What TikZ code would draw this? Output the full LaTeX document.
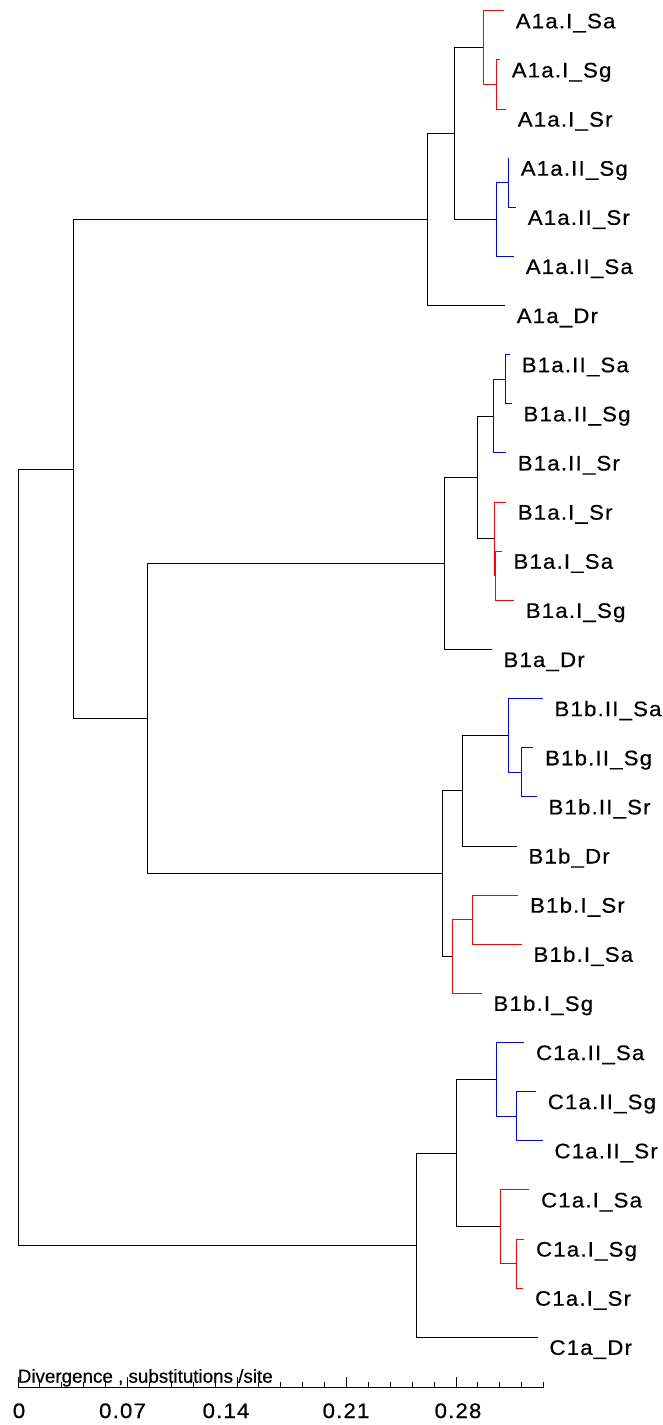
\documentclass[tikz,border=0pt]{standalone}
\usepackage{fontspec}
\setmainfont{Liberation Sans}
\newfontfamily\labfont[FakeStretch=1.06,LetterSpace=5.5,FakeBold=0.5]{Liberation Sans}
\newfontfamily\axfont[FakeBold=0.5]{Liberation Sans}
\definecolor{cladeI}{RGB}{255,0,0}
\definecolor{cladeII}{RGB}{0,0,255}
\begin{document}
\begin{tikzpicture}[x=1pt,y=-1pt,line width=1pt]
\tikzset{
  lab/.style={anchor=base west,inner sep=0pt,font=\labfont\fontsize{21}{23}\selectfont},
  num/.style={anchor=base,inner sep=0pt,font=\labfont\fontsize{21}{23}\selectfont},
  axistitle/.style={anchor=base west,inner sep=0pt,font=\axfont\fontsize{18.8}{22}\selectfont},
  edge/.style={line width=1pt,line join=miter},
  redge/.style={edge,cladeI},
  bedge/.style={edge,cladeII},
  kedge/.style={edge,black}
}
\path[use as bounding box,fill=white] (0,0) rectangle (662,1425);

% tree: one unit of y per leaf
\begin{scope}[y=-49.13pt,yshift=-10.8pt]
  % leaf tips
  \coordinate (L0) at (504,0);
  \coordinate (L1) at (500,1);
  \coordinate (L2) at (506,2);
  \coordinate (L3) at (509,3);
  \coordinate (L4) at (516,4);
  \coordinate (L5) at (514,5);
  \coordinate (L6) at (505,6);
  \coordinate (L7) at (510,7);
  \coordinate (L8) at (511.7,8);
  \coordinate (L9) at (506,9);
  \coordinate (L10) at (506,10);
  \coordinate (L11) at (501.7,11);
  \coordinate (L12) at (514,12);
  \coordinate (L13) at (491.7,13);
  \coordinate (L14) at (542.7,14);
  \coordinate (L15) at (533.3,15);
  \coordinate (L16) at (536.7,16);
  \coordinate (L17) at (516.7,17);
  \coordinate (L18) at (518.3,18);
  \coordinate (L19) at (521.7,19);
  \coordinate (L20) at (481.7,20);
  \coordinate (L21) at (524.3,21);
  \coordinate (L22) at (536,22);
  \coordinate (L23) at (542.7,23);
  \coordinate (L24) at (529.3,24);
  \coordinate (L25) at (524.3,25);
  \coordinate (L26) at (523.3,26);
  \coordinate (L27) at (537.7,27);

  % internal nodes
  \coordinate (a1) at (496.7,1.5);
  \coordinate (a2) at (483.3,0.75);
  \coordinate (a3) at (508.3,3.5);
  \coordinate (a4) at (496.7,4.25);
  \coordinate (a5) at (454.3,2.5);
  \coordinate (a6) at (427.7,4.25);

  \coordinate (b1) at (505.3,7.5);
  \coordinate (b2) at (493.3,8.25);
  \coordinate (b3) at (495,11.5);
  \coordinate (b4) at (494.3,10.75);
  \coordinate (b5) at (477.3,9.5);
  \coordinate (b6) at (444.3,11.25);

  \coordinate (c1) at (521.7,15.5);
  \coordinate (c2) at (508.3,14.75);
  \coordinate (c3) at (462.3,15.875);
  \coordinate (c4) at (472.3,18.5);
  \coordinate (c5) at (452.3,19.25);
  \coordinate (c6) at (442.7,17.5625);

  \coordinate (bB) at (147.3,14.40625);
  \coordinate (ab) at (73.3,9.328);

  \coordinate (d1) at (516.7,22.5);
  \coordinate (d2) at (496.7,21.75);
  \coordinate (d3) at (516.7,25.5);
  \coordinate (d4) at (500,24.75);
  \coordinate (d5) at (456,23.25);
  \coordinate (d6) at (416,25.125);

  \coordinate (root) at (18.3,17.227);

  % tip labels
  \foreach \i/\t in {0/A1a.I\_Sa,1/A1a.I\_Sg,2/A1a.I\_Sr,3/A1a.II\_Sg,4/A1a.II\_Sr,
      5/A1a.II\_Sa,6/A1a\_Dr,7/B1a.II\_Sa,8/B1a.II\_Sg,9/B1a.II\_Sr,10/B1a.I\_Sr,
      11/B1a.I\_Sa,12/B1a.I\_Sg,13/B1a\_Dr,14/B1b.II\_Sa,15/B1b.II\_Sg,16/B1b.II\_Sr,
      17/B1b\_Dr,18/B1b.I\_Sr,19/B1b.I\_Sa,20/B1b.I\_Sg,21/C1a.II\_Sa,22/C1a.II\_Sg,
      23/C1a.II\_Sr,24/C1a.I\_Sa,25/C1a.I\_Sg,26/C1a.I\_Sr,27/C1a\_Dr}
    \node[lab] (T\i) at ([xshift=11.3pt,yshift=-17.5pt]L\i) {\t};

  % A1a
  \draw[redge] (a1) |- (L1) (a1) |- (L2) (a2) |- (L0) (a2) |- (a1);
  \draw[bedge] (a3) |- (L3) (a3) |- (L4) (a4) |- (a3) (a4) |- (L5);
  \draw[kedge] (a5) |- (a2) (a5) |- (a4) (a6) |- (a5) (a6) |- (L6);

  % B1a
  \draw[bedge] (b1) |- (L7) (b1) |- (L8) (b2) |- (b1) (b2) |- (L9);
  \draw[redge] (b3) |- (L11) (b3) |- (L12) (b4) |- (L10) (b4) |- (b3);
  \draw[kedge] (b5) |- (b2) (b5) |- (b4) (b6) |- (b5) (b6) |- (L13);

  % B1b
  \draw[bedge] (c1) |- (L15) (c1) |- (L16) (c2) |- (L14) (c2) |- (c1);
  \draw[redge] (c4) |- (L18) (c4) |- (L19) (c5) |- (c4) (c5) |- (L20);
  \draw[kedge] (c3) |- (c2) (c3) |- (L17) (c6) |- (c3) (c6) |- (c5);

  % C1a
  \draw[bedge] (d1) |- (L22) (d1) |- (L23) (d2) |- (L21) (d2) |- (d1);
  \draw[redge] (d3) |- (L25) (d3) |- (L26) (d4) |- (L24) (d4) |- (d3);
  \draw[kedge] (d5) |- (d2) (d5) |- (d4) (d6) |- (d5) (d6) |- (L27);

  % backbone
  \draw[kedge] (bB) |- (b6) (bB) |- (c6) (ab) |- (a6) (ab) |- (bB)
               (root) |- (ab) (root) |- (d6);
\end{scope}

% scale axis
\coordinate (ax0) at (18,1387);
\coordinate (ax1) at (543.6,1387);
\draw[kedge] (ax0) -- (ax1);
\foreach \i in {0,...,24}{
  \pgfmathsetmacro\tx{18+21.9*\i}
  \pgfmathtruncatemacro\m{mod(\i,5)}
  \ifnum\m=0
    \draw[kedge] (\tx,1387) -- (\tx,1377);
  \else
    \draw[kedge] (\tx,1387) -- (\tx,1381.5);
  \fi
}
\node[axistitle] (title) at (17.3,1382.7) {Divergence , substitutions /site};
\node[num] (n0) at (19,1418) {0};
\node[num] (n1) at (122.5,1418) {0.07};
\node[num] (n2) at (226,1418) {0.14};
\node[num] (n3) at (346,1418) {0.21};
\node[num] (n4) at (458,1418) {0.28};
\end{tikzpicture}
\end{document}
